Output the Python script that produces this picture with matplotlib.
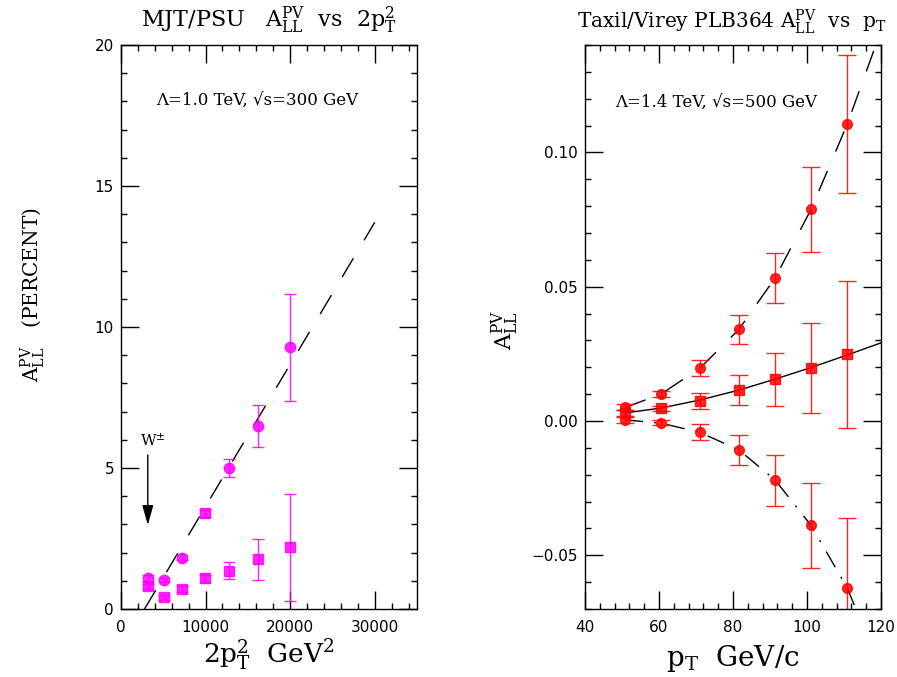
import matplotlib
matplotlib.use("Agg")
import matplotlib.pyplot as plt
from matplotlib.ticker import MultipleLocator, FuncFormatter

plt.rcParams['mathtext.fontset'] = 'dejavuserif'
plt.rcParams['lines.scale_dashes'] = False

# left panel: MJT/PSU, percent vs 2pT^2
l_x = [3170, 5030, 7200, 9880, 12760, 16240, 20020]
l_up = [1.09, 1.03, 1.82, 3.39, 4.99, 6.49, 9.28]
l_up_err = [0.12, 0.08, 0.10, 0.13, 0.32, 0.73, 1.90]
l_up_mk = ['o', 'o', 'o', 's', 'o', 'o', 'o']
l_lo = [0.80, 0.41, 0.70, 1.09, 1.36, 1.76, 2.19]
l_lo_err = [0.10, 0.08, 0.10, 0.13, 0.31, 0.73, 1.90]
l_line_x = [2780, 30000]
l_line_y = [0.0, 13.71]

# right panel: Taxil/Virey PLB364
r_x = [50.8, 60.5, 71.0, 81.6, 91.4, 101.1, 110.9]
r_up = [0.0053, 0.0100, 0.0196, 0.0341, 0.0533, 0.0788, 0.1106]
r_up_err = [0.0012, 0.0010, 0.0030, 0.0055, 0.0094, 0.0157, 0.0258]
r_mid = [0.0029, 0.0047, 0.0076, 0.0115, 0.0155, 0.0198, 0.0248]
r_mid_err = [0.0012, 0.0010, 0.0030, 0.0055, 0.0098, 0.0167, 0.0274]
r_lo = [0.0004, -0.0006, -0.0040, -0.0108, -0.0220, -0.0389, -0.0622]
r_lo_err = [0.0012, 0.0010, 0.0030, 0.0055, 0.0095, 0.0158, 0.0260]

up_curve_x = [50.8, 60.5, 71.0, 81.6, 91.4, 101.1, 110.9, 118.6]
up_curve_y = [0.0050, 0.0100, 0.0196, 0.0341, 0.0533, 0.0788, 0.1106, 0.140]
mid_curve_x = [50.8, 60.5, 71.0, 81.6, 91.4, 101.1, 110.9, 120.0]
mid_curve_y = [0.0030, 0.0048, 0.0078, 0.0115, 0.0156, 0.0199, 0.0246, 0.0291]
lo_curve_x = [50.8, 60.5, 71.0, 81.6, 91.4, 101.1, 110.9, 113.2]
lo_curve_y = [0.0004, -0.0008, -0.0042, -0.0108, -0.0220, -0.0389, -0.0622, -0.070]

W = 897.0
H = 677.0
fig = plt.figure(figsize=(8.97, 6.77), dpi=100)
axL = fig.add_axes([121 / W, 68 / H, 296 / W, 564 / H])
axR = fig.add_axes([585 / W, 68 / H, 296 / W, 564 / H])

mag = '#ff00ff'
red = '#ff0000'
serif = 'DejaVu Serif'

# left panel
axL.plot(l_line_x, l_line_y, color='black', lw=1.0, dashes=(15.8, 15.1))
for i in range(len(l_x)):
    axL.errorbar(l_x[i], l_up[i], yerr=l_up_err[i], fmt=l_up_mk[i], color=mag,
                 ms=7.5, elinewidth=1, capsize=4.6, capthick=1, alpha=0.85)
    axL.errorbar(l_x[i], l_lo[i], yerr=l_lo_err[i], fmt='s', color=mag,
                 ms=7.5, elinewidth=1, capsize=4.6, capthick=1, alpha=0.85)
axL.annotate('', xy=(3170, 2.98), xytext=(3170, 5.46),
             arrowprops=dict(arrowstyle='-|>,head_length=0.6,head_width=0.17',
                             color='black', lw=1.0,
                             mutation_scale=20, shrinkA=0, shrinkB=0))
axL.text(3730, 5.96, r'W$^{\pm}$', family=serif, fontsize=11,
         ha='center', va='center')
axL.text(4200, 18.05, 'Λ=1.0 TeV, √s=300 GeV', family=serif,
         fontsize=12, ha='left', va='center')
axL.set_xlim(0, 35000)
axL.set_ylim(0, 20)
axL.xaxis.set_major_locator(MultipleLocator(10000))
axL.xaxis.set_minor_locator(MultipleLocator(2000))
axL.yaxis.set_major_locator(MultipleLocator(5))
axL.yaxis.set_minor_locator(MultipleLocator(1))

# right panel
axR.plot(up_curve_x, up_curve_y, color='black', lw=1.0, dashes=(15.8, 15.1))
axR.plot(mid_curve_x, mid_curve_y, color='black', lw=1.0)
axR.plot(lo_curve_x, lo_curve_y, color='black', lw=1.0, dashes=(13, 8, 1.5, 8))
for ys, es, mk in ((r_up, r_up_err, 'o'), (r_mid, r_mid_err, 's'), (r_lo, r_lo_err, 'o')):
    axR.errorbar(r_x, ys, yerr=es, fmt=mk, color=red, ms=7, elinewidth=1,
                 capsize=6.5, capthick=1, alpha=0.85)
axR.text(48.1, 0.1188, 'Λ=1.4 TeV, √s=500 GeV', family=serif,
         fontsize=12, ha='left', va='center')
axR.set_xlim(40, 120)
axR.set_ylim(-0.07, 0.14)
axR.xaxis.set_major_locator(MultipleLocator(20))
axR.xaxis.set_minor_locator(MultipleLocator(4))
axR.yaxis.set_major_locator(MultipleLocator(0.05))
axR.yaxis.set_minor_locator(MultipleLocator(0.01))
axR.yaxis.set_major_formatter(FuncFormatter(lambda v, p: ('%.2f' % v).replace('-', '\u2212')))

for ax in (axL, axR):
    ax.tick_params(which='both', direction='in', top=True, right=True, width=1.0,
                   labelsize=11)
    ax.tick_params(which='major', length=13)
    ax.tick_params(which='minor', length=4.5)
    ax.tick_params(axis='y', pad=5)
    ax.tick_params(axis='x', pad=8)
    for s in ax.spines.values():
        s.set_linewidth(1.0)

A = r'$\mathrm{A}_{\rm LL}^{\rm PV}$'
fig.text(269 / W, 1 - 20 / H, 'MJT/PSU   ' + A + r'  vs  2$\mathrm{p}_{\rm T}^{2}$',
         family=serif, fontsize=16, ha='center', va='center')
fig.text(732 / W, 1 - 22 / H, 'Taxil/Virey PLB364 ' + A + r'  vs  $\mathrm{p}_{\rm T}$',
         family=serif, fontsize=14.5, ha='center', va='center')
fig.text(269 / W, 1 - 655 / H, r'2$\mathrm{p}_{\rm T}^{2}$  GeV$^{2}$',
         family=serif, fontsize=19, ha='center', va='center')
fig.text(733 / W, 1 - 658 / H, r'$\mathrm{p}_{\rm T}$  GeV/c',
         family=serif, fontsize=20, ha='center', va='center')
fig.text(33 / W, 1 - 295 / H, A + '   (PERCENT)', family=serif, fontsize=14.5,
         rotation=90, ha='center', va='center')
fig.text(505 / W, 1 - 330 / H, A, family=serif, fontsize=16,
         rotation=90, ha='center', va='center')

fig.savefig('out.png', dpi=100)
